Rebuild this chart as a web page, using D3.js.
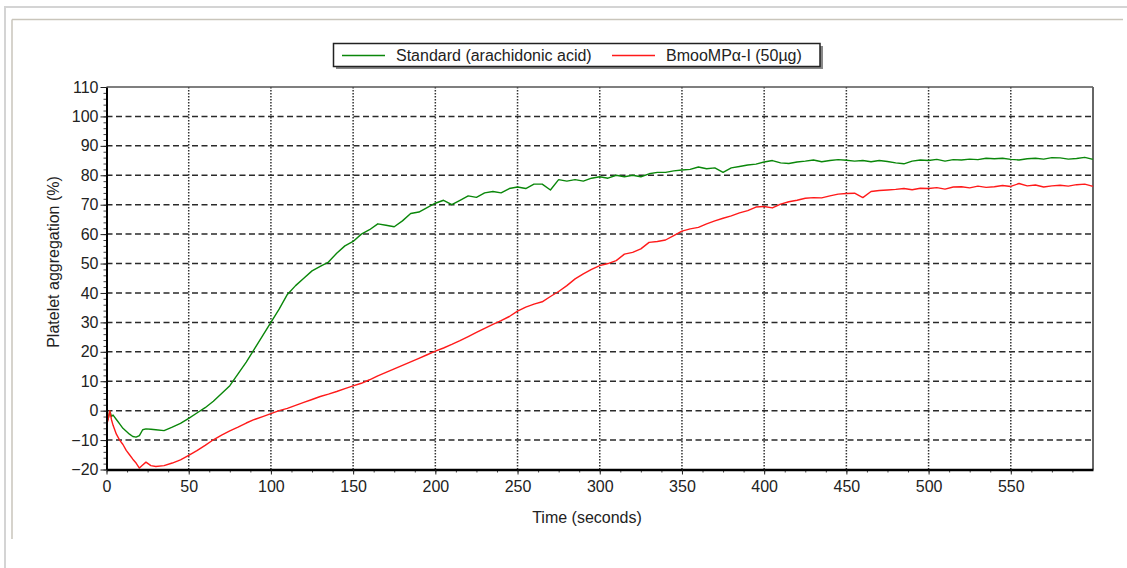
<!DOCTYPE html>
<html>
<head>
<meta charset="utf-8">
<script src="https://cdn.jsdelivr.net/npm/d3@7"></script>
<style>
  body { margin: 0; background: #fff; }
  svg { display: block; font-family: "Liberation Sans", Arial, sans-serif; }
</style>
</head>
<body>
<svg width="1127" height="568"></svg>
<script>
// time points (seconds)
const times = [0, 1, 2, 3, 4, 6, 8, 10, 12, 14, 16, 18, 20, 22, 24, 27, 30,
  35, 40, 45, 50, 55, 60, 65, 70, 75, 80, 85, 90, 95, 100, 105, 110, 115, 120,
  125, 130, 135, 140, 145, 150, 155, 160, 165, 170, 175, 180, 185, 190, 195, 200,
  205, 210, 215, 220, 225, 230, 235, 240, 245, 250, 255, 260, 265, 270, 275, 280,
  285, 290, 295, 300, 305, 310, 315, 320, 325, 330, 335, 340, 345, 350, 355, 360,
  365, 370, 375, 380, 385, 390, 395, 400, 405, 410, 415, 420, 425, 430, 435, 440,
  445, 450, 455, 460, 465, 470, 475, 480, 485, 490, 495, 500, 505, 510, 515, 520,
  525, 530, 535, 540, 545, 550, 555, 560, 565, 570, 575, 580, 585, 590, 595, 600];

// Standard (arachidonic acid)
const standard = [-1, -3, 0, -2, -1.5, -3, -4.5, -6, -7, -8, -8.8, -9, -8.5, -6.5, -6.2, -6.3, -6.5,
  -6.8, -5.6, -4.3, -2.6, -0.8, 1, 3.2, 5.8, 8.5, 12.5, 16.5, 21, 25.5, 30, 34.5, 39.5, 42.5, 45,
  47.5, 49, 50.5, 53.5, 56, 57.5, 60, 61.5, 63.5, 63, 62.5, 64.5, 67, 67.5, 69, 70.5,
  71.5, 70, 71.5, 73, 72.5, 74, 74.5, 74, 75.5, 76, 75.5, 77, 77, 75, 78.5, 78,
  78.5, 78, 79, 79.5, 79, 80, 79.5, 80, 79.5, 80.5, 81, 81, 81.5, 81.8, 82, 82.8,
  82.2, 82.5, 81, 82.5, 83, 83.5, 83.8, 84.5, 85, 84.2, 84, 84.5, 84.8, 85.2, 84.6, 85,
  85.3, 85.1, 84.8, 85, 84.6, 85, 84.7, 84.2, 83.9, 84.8, 85.2, 85, 85.4, 84.8, 85.3, 85.2,
  85.5, 85.3, 85.8, 85.6, 85.8, 85.4, 85.2, 85.6, 85.8, 85.5, 86, 85.9, 85.5, 85.7, 86.1, 85.4];

// BmooMPα-I (50µg)
const bmoo = [-5, -3, 0, -3, -5, -8, -10, -11.5, -13.5, -15, -16.5, -17.8, -19.5, -18.5, -17.5, -18.7, -19,
  -18.7, -17.8, -16.7, -15.2, -13.6, -11.8, -9.9, -8.3, -6.9, -5.6, -4.2, -3, -2, -1, 0, 0.8, 1.8, 2.8,
  3.8, 4.8, 5.6, 6.5, 7.5, 8.4, 9.3, 10.5, 11.8, 13, 14.2, 15.4, 16.6, 17.8, 19, 20.2,
  21.3, 22.5, 23.8, 25.2, 26.6, 28, 29.3, 30.6, 32, 33.8, 35.2, 36.2, 37, 38.8, 40.5, 42.5,
  44.8, 46.5, 48, 49.3, 50, 51, 53.2, 53.8, 55, 57.2, 57.5, 58, 59.5, 61, 61.8, 62.3,
  63.5, 64.5, 65.4, 66.2, 67.2, 68, 69.2, 69.4, 68.9, 70.2, 71, 71.5, 72.2, 72.4, 72.3, 73,
  73.6, 73.8, 73.9, 72.4, 74.5, 74.8, 75, 75.2, 75.5, 75.1, 75.6, 75.5, 75.8, 75.3, 76, 76.1,
  75.7, 76.3, 75.9, 76.1, 76.5, 76.2, 77.2, 76.4, 76.7, 76, 76.4, 76.6, 76.3, 76.8, 77, 76.2];

const seriesNames = ["Standard (arachidonic acid)", "BmooMPα-I (50µg)"];
const seriesColors = ["#0a870a", "#ff1a1a"];
const xTicks = [0, 50, 100, 150, 200, 250, 300, 350, 400, 450, 500, 550];
const yTicks = [-20, -10, 0, 10, 20, 30, 40, 50, 60, 70, 80, 90, 100, 110];

const svg = d3.select("svg");

// window frame lines
svg.append("line").attr("x1", 4).attr("x2", 1127).attr("y1", 7).attr("y2", 7)
  .attr("stroke", "#d4d4d4").attr("stroke-width", 2);
svg.append("line").attr("x1", 5).attr("x2", 5).attr("y1", 7).attr("y2", 568)
  .attr("stroke", "#d4d4d4").attr("stroke-width", 2);
svg.append("line").attr("x1", 12).attr("x2", 1123).attr("y1", 19.5).attr("y2", 19.5)
  .attr("stroke", "#c9c5bb").attr("stroke-width", 1.5);
svg.append("line").attr("x1", 12).attr("x2", 12).attr("y1", 19.5).attr("y2", 539)
  .attr("stroke", "#c9c5bb").attr("stroke-width", 1.5);

const plotLeft = 106.5, plotRight = 1093, plotTop = 87, plotBottom = 469.5;

const x = d3.scaleLinear().domain([0, 600]).range([plotLeft, plotRight]);
const y = d3.scaleLinear().domain([-20, 110]).range([plotBottom, plotTop]);

// grid
const grid = svg.append("g");
grid.selectAll(".hg")
  .data(yTicks.filter((d) => d > -20 && d < 110))
  .enter()
  .append("line")
  .attr("x1", plotLeft).attr("x2", plotRight)
  .attr("y1", (d) => y(d)).attr("y2", (d) => y(d))
  .attr("stroke", "#2a2a2a").attr("stroke-width", 1.5)
  .attr("stroke-dasharray", "6,3.5");
grid.selectAll(".vg")
  .data(xTicks.filter((d) => d > 0))
  .enter()
  .append("line")
  .attr("x1", (d) => x(d)).attr("x2", (d) => x(d))
  .attr("y1", plotTop).attr("y2", plotBottom)
  .attr("stroke", "#333").attr("stroke-width", 1.5)
  .attr("stroke-dasharray", "1.5,1.5");

// top and right border
svg.append("line").attr("x1", plotLeft).attr("x2", plotRight).attr("y1", plotTop).attr("y2", plotTop)
  .attr("stroke", "#555").attr("stroke-width", 1.5);
svg.append("line").attr("x1", plotRight).attr("x2", plotRight).attr("y1", plotTop).attr("y2", plotBottom)
  .attr("stroke", "#666").attr("stroke-width", 2);

// data lines
const allSeries = [standard, bmoo];
const line = d3.line()
  .x((d, i) => x(times[i]))
  .y((d) => y(d));

svg.selectAll(".series")
  .data(allSeries)
  .enter()
  .append("path")
  .attr("fill", "none")
  .attr("stroke", (d, i) => seriesColors[i])
  .attr("stroke-width", 1.4)
  .attr("stroke-linejoin", "round")
  .attr("d", line);

// minor ticks
const yMinor = svg.append("g").attr("transform", "translate(" + plotLeft + ",0)")
  .call(d3.axisLeft(y).tickValues(d3.range(-20, 111, 2)).tickSize(3).tickFormat(""));
yMinor.select(".domain").remove();
yMinor.selectAll("line").attr("stroke", "#444");

const xMinor = svg.append("g").attr("transform", "translate(0," + plotBottom + ")")
  .call(d3.axisBottom(x).tickValues(d3.range(0, 600, 12.5)).tickSize(3).tickFormat(""));
xMinor.select(".domain").remove();
xMinor.selectAll("line").attr("stroke", "#444");

// major axes
const yAxis = svg.append("g").attr("transform", "translate(" + plotLeft + ",0)")
  .call(d3.axisLeft(y).tickValues(yTicks).tickSize(6).tickPadding(2).tickSizeOuter(0));
yAxis.select(".domain").attr("stroke", "#000").attr("stroke-width", 2);
yAxis.selectAll("line").attr("stroke", "#222");
yAxis.selectAll("text").attr("font-size", 16).attr("fill", "#222")
  .attr("font-family", "Liberation Sans, Arial, sans-serif");

const xAxis = svg.append("g").attr("transform", "translate(0," + plotBottom + ")")
  .call(d3.axisBottom(x).tickValues(xTicks).tickSize(5).tickPadding(6).tickSizeOuter(0));
xAxis.select(".domain").attr("stroke", "#000").attr("stroke-width", 2.5);
xAxis.selectAll("line").attr("stroke", "#222");
xAxis.selectAll("text").attr("font-size", 16).attr("fill", "#222")
  .attr("font-family", "Liberation Sans, Arial, sans-serif");

// axis titles
svg.append("text")
  .attr("transform", "translate(59,262) rotate(-90)")
  .attr("text-anchor", "middle")
  .attr("font-size", 16).attr("fill", "#222")
  .text("Platelet aggregation (%)");
svg.append("text")
  .attr("x", 587).attr("y", 523)
  .attr("text-anchor", "middle")
  .attr("font-size", 16).attr("fill", "#222")
  .text("Time (seconds)");

// legend
const legend = svg.append("g");
legend.append("rect").attr("x", 336).attr("y", 46).attr("width", 487).attr("height", 23)
  .attr("fill", "#888");
legend.append("rect").attr("x", 333.5).attr("y", 43.5).attr("width", 486.5).attr("height", 23)
  .attr("fill", "#fff").attr("stroke", "#222").attr("stroke-width", 1.5);
const legendX = [342, 612];
const items = legend.selectAll(".item")
  .data(seriesNames)
  .enter()
  .append("g")
  .attr("transform", (d, i) => "translate(" + legendX[i] + ",55.5)");
items.append("line").attr("x1", 0).attr("x2", 43)
  .attr("stroke", (d, i) => seriesColors[i]).attr("stroke-width", 1.5);
items.append("text").attr("x", 54).attr("y", 5.5)
  .attr("font-size", 16).attr("fill", "#222")
  .text((d) => d);
</script>
</body>
</html>
